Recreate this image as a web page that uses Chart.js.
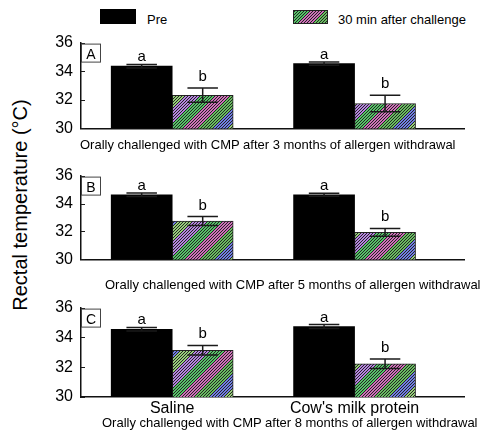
<!DOCTYPE html>
<html>
<head>
<meta charset="utf-8">
<script src="https://cdn.jsdelivr.net/npm/chart.js@4.4.1/dist/chart.umd.min.js"></script>
<style>
  html, body { margin: 0; padding: 0; background: #fff; width: 483px; height: 430px; overflow: hidden;
    font-family: "Liberation Sans", Arial, sans-serif; color: #000; }
  .abs { position: absolute; white-space: nowrap; }
  .note { font-size: 13px; line-height: 15px; }
  .leg { font-size: 13px; line-height: 16px; }
  canvas { display: block; }
</style>
</head>
<body>
<script>
// Groups along the x axis and the two measurement times
const groups = ['Saline', "Cow's milk protein"];
const seriesNames = ['Pre', '30 min after challenge'];
const panelTags = ['A', 'B', 'C'];
const panelNotes = [
  'Orally challenged with CMP after 3 months of allergen withdrawal',
  'Orally challenged with CMP after 5 months of allergen withdrawal',
  'Orally challenged with CMP after 8 months of allergen withdrawal'
];
const yTicks = [30, 32, 34, 36];

// Rectal temperature (°C), one row per panel: [Saline, Cow's milk protein]
const preMean  = [[34.35, 34.53], [34.63, 34.63], [34.55, 34.73]];
const preErr   = [[0.12, 0.12], [0.12, 0.10], [0.12, 0.13]];
const postMean = [[32.32, 31.74], [32.75, 31.94], [33.14, 32.23]];
const postErr  = [[0.50, 0.57], [0.32, 0.28], [0.32, 0.32]];
const preLetters  = ['a', 'a'];
const postLetters = ['b', 'b'];

const FONT = '"Liberation Sans", Arial, sans-serif';
Chart.defaults.font.family = FONT;
Chart.defaults.color = '#000';

// Multicolour diagonal hatching used for the post-challenge bars
function makeHatchTile() {
  const N = 90;
  const c = document.createElement('canvas');
  c.width = c.height = N;
  const g = c.getContext('2d');
  const img = g.createImageData(N, N);
  const bands = [[86, 196, 104], [206, 112, 184], [104, 190, 96], [112, 126, 228], [150, 206, 122], [180, 132, 222]];
  for (let y = 0; y < N; y++) {
    for (let x = 0; x < N; x++) {
      const s = (x + y) % N;
      const col = (s % 3 === 0) ? [35, 35, 35] : bands[Math.floor(s / 15)];
      const k = (y * N + x) * 4;
      img.data[k] = col[0]; img.data[k + 1] = col[1]; img.data[k + 2] = col[2]; img.data[k + 3] = 255;
    }
  }
  g.putImageData(img, 0, 0);
  return c;
}
const hatchTile = makeHatchTile();

function addText(txt, cls, left, top, extra) {
  const d = document.createElement('div');
  d.className = 'abs ' + cls;
  d.textContent = txt;
  d.style.left = left + 'px';
  d.style.top = top + 'px';
  if (extra) d.style.cssText += extra;
  document.body.appendChild(d);
  return d;
}

// Legend
const sw1 = document.createElement('div');
sw1.className = 'abs';
sw1.style.cssText += 'left:100px;top:9px;width:36px;height:15px;background:#000;';
document.body.appendChild(sw1);
addText(seriesNames[0], 'leg', 147, 12);
const sw2 = document.createElement('div');
sw2.className = 'abs';
sw2.style.cssText += 'left:293px;top:10px;width:33px;height:12px;border:1px solid #222;background-image:url(' + hatchTile.toDataURL() + ');';
document.body.appendChild(sw2);
addText(seriesNames[1], 'leg', 338, 12);

// Shared y-axis title
addText('Rectal temperature (°C)', '', 20, 205,
  'font-size:20px;line-height:22px;transform:translate(-50%,-50%) rotate(-90deg);');

// Error bars, significance letters, inward ticks and panel tag
const panelExtras = {
  id: 'panelExtras',
  afterDatasetsDraw(chart, args, opts) {
    const p = opts.panel;
    const { ctx, chartArea } = chart;
    const y = chart.scales.y;
    const sets = [[preMean[p], preErr[p], preLetters], [postMean[p], postErr[p], postLetters]];
    ctx.save();
    sets.forEach(([m, e, letters], di) => {
      const meta = chart.getDatasetMeta(di);
      meta.data.forEach((bar, j) => {
        const { x, width } = bar.getProps(['x', 'width'], true);
        const half = width / 4;
        const yt = y.getPixelForValue(m[j] + e[j]);
        const yb = y.getPixelForValue(m[j] - e[j]);
        ctx.strokeStyle = '#1a1a1a';
        ctx.lineWidth = 1.5;
        ctx.beginPath();
        ctx.moveTo(x, yt); ctx.lineTo(x, yb);
        ctx.moveTo(x - half, yt); ctx.lineTo(x + half, yt);
        ctx.moveTo(x - half, yb); ctx.lineTo(x + half, yb);
        ctx.stroke();
        ctx.fillStyle = '#000';
        ctx.font = '15px ' + FONT;
        ctx.textAlign = 'center';
        ctx.textBaseline = 'alphabetic';
        ctx.fillText(letters[j], x, yt - (letters[j] === 'a' ? 3 : 7));
      });
    });
    const x0 = chartArea.left;
    ctx.strokeStyle = '#1a1a1a';
    ctx.lineWidth = 1.2;
    ctx.beginPath();
    y.ticks.forEach(t => {
      const py = Math.round(y.getPixelForValue(t.value)) + 0.5;
      ctx.moveTo(x0, py); ctx.lineTo(x0 + 4, py);
    });
    ctx.stroke();
    ctx.lineWidth = 1;
    ctx.strokeStyle = '#444';
    ctx.strokeRect(x0 + 0.5, chartArea.top + 1.5, 19, 18);
    ctx.font = '14px ' + FONT;
    ctx.textAlign = 'center';
    ctx.fillStyle = '#000';
    ctx.fillText(panelTags[p], x0 + 10, chartArea.top + 16);
    ctx.restore();
  }
};

// Placement of the three stacked panels
const panelBoxes = [
  { top: 25,  height: 121, padB: 12, showX: false, xH: 0 },
  { top: 158, height: 119, padB: 12, showX: false, xH: 0 },
  { top: 290, height: 132, padB: 3,  showX: true,  xH: 22 }
];
const notePos = [[80, 137], [105, 277], [102, 415]];

panelBoxes.forEach((box, p) => {
  const cv = document.createElement('canvas');
  cv.width = 483; cv.height = box.height;
  cv.style.cssText = 'position:absolute;left:0;top:' + box.top + 'px;';
  document.body.appendChild(cv);
  const hatch = cv.getContext('2d').createPattern(hatchTile, 'repeat');
  new Chart(cv, {
    type: 'bar',
    data: {
      datasets: [
        { label: seriesNames[0], data: preMean[p].map((v, i) => ({ x: i, y: v })),
          backgroundColor: '#000', borderColor: '#000', borderWidth: 0, barThickness: 61 },
        { label: seriesNames[1], data: postMean[p].map((v, i) => ({ x: i, y: v })),
          backgroundColor: hatch, borderColor: '#222', borderWidth: 1, barThickness: 61 }
      ]
    },
    options: {
      responsive: false,
      animation: false,
      events: [],
      layout: { padding: { top: 10, bottom: box.padB, left: 0, right: 19 } },
      plugins: { legend: { display: false }, tooltip: { enabled: false }, panelExtras: { panel: p } },
      scales: {
        x: {
          type: 'linear', min: -0.5, max: 1.6, offset: false,
          grid: { display: false, drawTicks: false },
          border: { display: true, color: '#111', width: 1.5 },
          afterBuildTicks: s => { s.ticks = groups.map((g, i) => ({ value: i })); },
          ticks: { display: box.showX, padding: 2, color: '#000', font: { size: 16 },
                   callback: v => groups[v] },
          afterFit: s => { s.height = box.xH; }
        },
        y: {
          min: 30, max: 36,
          afterBuildTicks: s => { s.ticks = yTicks.map(v => ({ value: v })); },
          grid: { display: false, drawTicks: false },
          border: { display: true, color: '#111', width: 1.5 },
          ticks: { padding: 8, color: '#000', font: { size: 16 } },
          afterFit: s => { s.width = 81; }
        }
      }
    },
    plugins: [panelExtras]
  });
  addText(panelNotes[p], 'note', notePos[p][0], notePos[p][1]);
});
</script>
</body>
</html>
